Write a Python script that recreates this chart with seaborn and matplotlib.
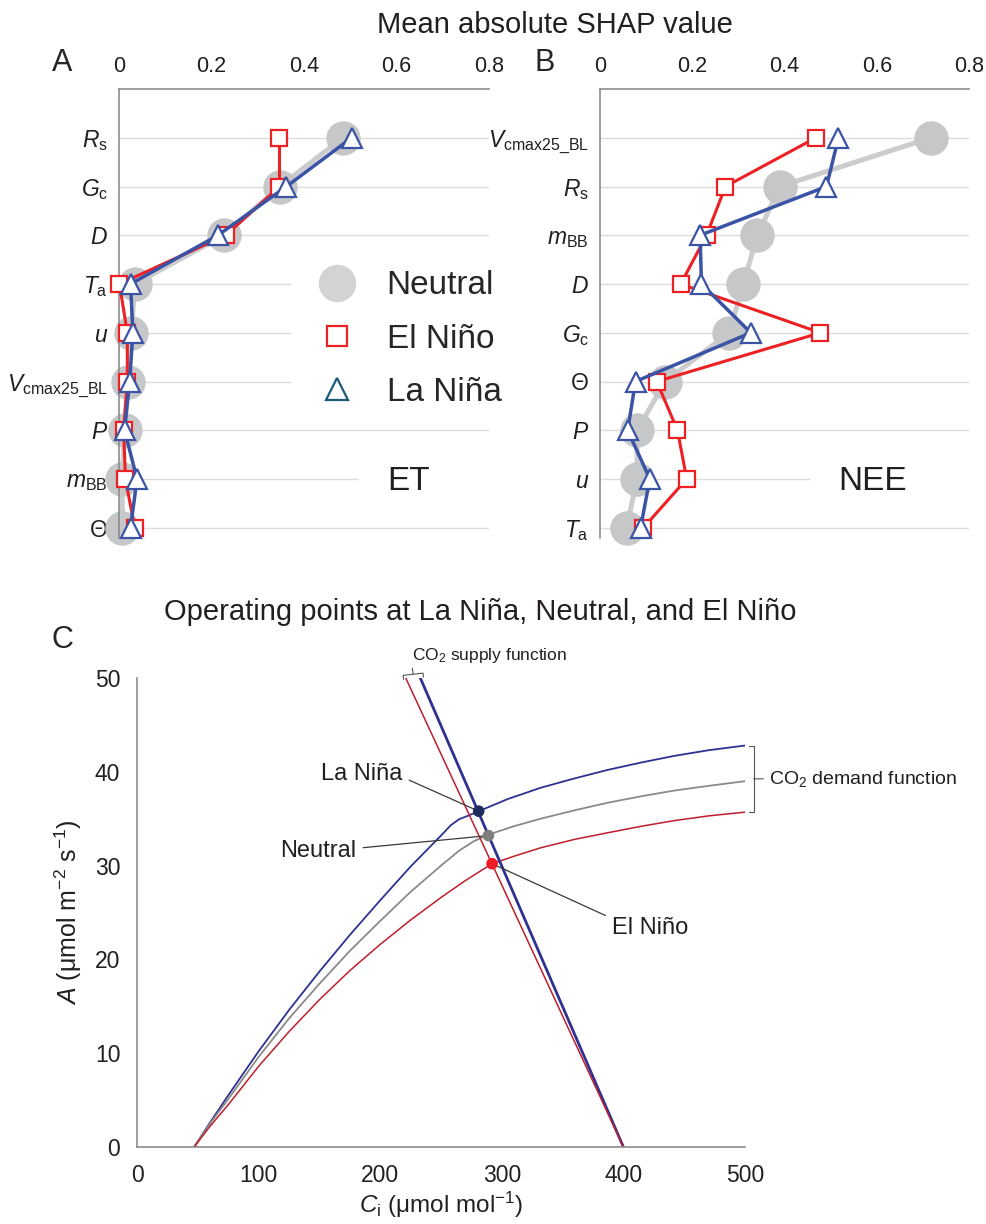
import matplotlib
matplotlib.use("Agg")
import matplotlib.pyplot as plt
from matplotlib.lines import Line2D
import seaborn as sns
import numpy as np

sns.set_style("white")
plt.rcParams["font.family"] = ["Liberation Sans", "DejaVu Sans"]
plt.rcParams["mathtext.fontset"] = "custom"
plt.rcParams["mathtext.rm"] = "Liberation Sans"
plt.rcParams["mathtext.it"] = "Liberation Sans:italic"
plt.rcParams["mathtext.bf"] = "Liberation Sans:bold"

# -------------------------------
# data: panel A (ET) and B (NEE), mean |SHAP|
# -------------------------------
et_labels = [r"$R_\mathrm{s}$", r"$G_\mathrm{c}$", r"$D$", r"$T_\mathrm{a}$", r"$u$",
             r"$V_\mathrm{cmax25\_BL}$", r"$P$", r"$m_\mathrm{BB}$", "Θ"]
et_neutral = [0.484, 0.348, 0.227, 0.034, 0.027, 0.019, 0.012, 0.007, 0.007]
et_elnino = [0.347, 0.347, 0.231, 0.001, 0.018, 0.018, 0.010, 0.014, 0.034]
et_lanina = [0.503, 0.362, 0.214, 0.025, 0.030, 0.023, 0.012, 0.039, 0.025]

nee_labels = [r"$V_\mathrm{cmax25\_BL}$", r"$R_\mathrm{s}$", r"$m_\mathrm{BB}$", r"$D$",
              r"$G_\mathrm{c}$", "Θ", r"$P$", r"$u$", r"$T_\mathrm{a}$"]
nee_neutral = [0.717, 0.390, 0.341, 0.311, 0.280, 0.141, 0.081, 0.080, 0.058]
nee_elnino = [0.468, 0.272, 0.231, 0.175, 0.478, 0.123, 0.168, 0.188, 0.094]
nee_lanina = [0.517, 0.491, 0.217, 0.220, 0.327, 0.077, 0.060, 0.108, 0.088]

shap_ticks = [0, 0.1, 0.2, 0.3, 0.4, 0.5, 0.6, 0.7, 0.8]
shap_ticklabels = ["0", "", "0.2", "", "0.4", "", "0.6", "", "0.8"]

# -------------------------------
# data: panel C, demand curves A(Ci), supply lines, operating points
# -------------------------------
ci_lanina = [47, 60, 75, 100, 125, 150, 175, 200, 225, 250, 258, 265, 272, 281,
             305, 332, 360, 387, 415, 442, 470, 500]
a_lanina = [0, 2.6, 5.5, 10.2, 14.6, 18.7, 22.6, 26.3, 29.9, 33.2, 34.3, 34.95, 35.3, 35.8,
            37.1, 38.3, 39.3, 40.2, 41.0, 41.7, 42.3, 42.8]
ci_neutral = [47, 60, 75, 100, 125, 150, 175, 200, 225, 250, 265, 277, 289,
              310, 332, 360, 387, 415, 442, 470, 500]
a_neutral = [0, 2.5, 5.1, 9.6, 13.7, 17.4, 20.9, 24.1, 27.2, 30.0, 31.6, 32.6, 33.3,
             34.2, 35.0, 35.9, 36.7, 37.4, 38.0, 38.5, 39.0]
ci_elnino = [47, 60, 75, 100, 125, 150, 175, 200, 225, 250, 270, 292,
             310, 332, 360, 387, 415, 442, 470, 500]
a_elnino = [0, 2.2, 4.5, 8.6, 12.3, 15.7, 18.8, 21.6, 24.2, 26.6, 28.4, 30.2,
            31.0, 31.9, 32.8, 33.5, 34.2, 34.8, 35.3, 35.7]

supply_a = [50, 0]
supply_ci_elnino = [221, 400]
supply_ci_lanina = [233, 400]

op_names = ["La Niña", "Neutral", "El Niño"]
op_ci = [281, 289, 292]
op_a = [35.8, 33.2, 30.2]

# colours
GREY_M = "#c6c7c9"
GREY_L = "#cbcccd"
RED = "#ed2024"
BLUE = "#3a53a4"
AXC = "#8c8c8c"
TXT = "#231f20"

fig = plt.figure(figsize=(9.87, 12.24), dpi=100)
W, H = 987.0, 1224.0
axA = fig.add_axes([119 / W, 1 - 537.5 / H, 370 / W, 448.5 / H])
axB = fig.add_axes([600 / W, 1 - 537.5 / H, 369 / W, 448.5 / H])
axC = fig.add_axes([137 / W, 1 - 1147 / H, 608 / W, 469 / H])


def shap_panel(ax, labels, neutral, elnino, lanina, grid_ends):
    pos = np.arange(len(labels))
    ax.hlines(pos, 0, grid_ends, color="#dcdcdc", lw=1.0, zorder=0)
    sns.lineplot(x=neutral, y=pos, orient="y", sort=False, estimator=None, ax=ax,
                 color=GREY_L, lw=3.6, marker="o", markersize=24,
                 markerfacecolor=GREY_M, markeredgecolor=GREY_M, clip_on=False, zorder=2)
    sns.lineplot(x=elnino, y=pos, orient="y", sort=False, estimator=None, ax=ax,
                 color=RED, lw=2.2, marker="s", markersize=11.5,
                 markerfacecolor="white", markeredgecolor=RED, markeredgewidth=1.6,
                 clip_on=False, zorder=3)
    sns.lineplot(x=lanina, y=pos, orient="y", sort=False, estimator=None, ax=ax,
                 color=BLUE, lw=2.5, marker="^", markersize=14,
                 markerfacecolor="white", markeredgecolor=BLUE, markeredgewidth=1.6,
                 clip_on=False, zorder=4)
    ax.set_xlim(0, 0.8)
    ax.set_ylim(8.2, -1)
    ax.xaxis.tick_top()
    ax.set_xticks(shap_ticks)
    ax.set_xticklabels(shap_ticklabels)
    ax.set_yticks(pos)
    ax.set_yticklabels(labels)
    ax.set_xlabel("")
    ax.set_ylabel("")
    ax.tick_params(axis="x", direction="out", length=5, width=1, color=AXC,
                   labelsize=15.5, labelcolor=TXT, pad=4)
    ax.tick_params(axis="y", length=0, labelsize=16.5, labelcolor=TXT, pad=8)
    sns.despine(ax=ax, top=False, right=True, bottom=True, left=False)
    for s in ("top", "left"):
        ax.spines[s].set_color(AXC)
        ax.spines[s].set_linewidth(1.2)


shap_panel(axA, et_labels, et_neutral, et_elnino, et_lanina,
           [0.8, 0.8, 0.8, 0.372, 0.372, 0.372, 0.8, 0.517, 0.8])
shap_panel(axB, nee_labels, nee_neutral, nee_elnino, nee_lanina,
           [0.8, 0.8, 0.8, 0.8, 0.8, 0.8, 0.8, 0.455, 0.8])

handles = [
    Line2D([], [], ls="none", marker="o", ms=27, mfc="#d1d3d4", mec="none"),
    Line2D([], [], ls="none", marker="s", ms=14, mfc="white", mec=RED, mew=1.6),
    Line2D([], [], ls="none", marker="^", ms=16, mfc="white", mec="#1c5a7c", mew=1.6),
]
axA.legend(handles, ["Neutral", "El Niño", "La Niña"], loc="center left",
           bbox_to_anchor=(320 / W, 1 - 339 / H), bbox_transform=fig.transFigure,
           frameon=False, fontsize=24, handlelength=1.0, handletextpad=1.0,
           labelspacing=0.67, borderpad=0, borderaxespad=0)

fig.text(387 / W, 1 - 482 / H, "ET", fontsize=24, va="center", color=TXT)
fig.text(838 / W, 1 - 482 / H, "NEE", fontsize=24, va="center", color=TXT)
fig.text(555 / W, 1 - 25 / H, "Mean absolute SHAP value", fontsize=21,
         ha="center", va="center", color=TXT)
fig.text(62 / W, 1 - 63 / H, "A", fontsize=22, ha="center", va="center")
fig.text(545 / W, 1 - 63 / H, "B", fontsize=22, ha="center", va="center")
fig.text(62 / W, 1 - 640 / H, "C", fontsize=22, ha="center", va="center")

# -------------------------------
# panel C
# -------------------------------
C_BLUE = "#2e3192"
C_GREY = "#8a8a8a"
C_RED = "#be1e2d"

sns.lineplot(x=ci_lanina, y=a_lanina, sort=False, estimator=None, ax=axC, color=C_BLUE, lw=1.3)
sns.lineplot(x=ci_neutral, y=a_neutral, sort=False, estimator=None, ax=axC, color=C_GREY, lw=1.3)
sns.lineplot(x=ci_elnino, y=a_elnino, sort=False, estimator=None, ax=axC, color=C_RED, lw=1.1)
sns.lineplot(x=supply_ci_lanina, y=supply_a, sort=False, estimator=None, ax=axC, color=C_BLUE, lw=2.0)
sns.lineplot(x=supply_ci_elnino, y=supply_a, sort=False, estimator=None, ax=axC, color=C_RED, lw=1.1)
sns.scatterplot(x=op_ci, y=op_a, hue=op_names, palette=["#1d2a5c", "#7d7d7d", "#ee1c25"],
                s=70, edgecolor="none", legend=False, ax=axC, zorder=5, clip_on=False)

axC.set_xlim(0, 500)
axC.set_ylim(0, 50)
axC.set_xticks([0, 100, 200, 300, 400, 500])
axC.set_yticks([0, 10, 20, 30, 40, 50])
sns.despine(ax=axC)
for s in ("left", "bottom"):
    axC.spines[s].set_color(AXC)
    axC.spines[s].set_linewidth(1.2)
axC.tick_params(direction="out", length=7, width=1, color=AXC, labelsize=16.5,
                labelcolor=TXT, pad=5)
axC.set_ylabel(r"$A$ (μmol m$^{-2}$ s$^{-1}$)", fontsize=18, labelpad=8, color=TXT)
axC.set_xlabel(r"$C_\mathrm{i}$ (μmol mol$^{-1}$)", fontsize=17.5, labelpad=2, color=TXT)

fig.text(480 / W, 1 - 612 / H, "Operating points at La Niña, Neutral, and El Niño",
         fontsize=21, ha="center", va="center", color=TXT)

lead = dict(arrowstyle="-", color="#3a3a3a", lw=0.9, shrinkA=3, shrinkB=2)
axC.annotate("La Niña", xy=(op_ci[0], op_a[0]), xytext=(218, 39.8), ha="right", va="center",
             fontsize=17, color=TXT, arrowprops=dict(lead, relpos=(1, 0.35)))
axC.annotate("Neutral", xy=(op_ci[1], op_a[1]), xytext=(180, 31.6), ha="right", va="center",
             fontsize=17, color=TXT, arrowprops=dict(lead, relpos=(1, 0.6)))
axC.annotate("El Niño", xy=(op_ci[2], op_a[2]), xytext=(391, 23.4), ha="left", va="center",
             fontsize=17, color=TXT, arrowprops=dict(lead, relpos=(0, 0.9)))

axC.annotate("CO$_2$ supply function", xy=(227, 50.4), xytext=(226, 52.4),
             ha="left", va="center", fontsize=12.5, color=TXT, annotation_clip=False,
             arrowprops=dict(arrowstyle="-[, widthB=0.72, lengthB=0.3", color="#555555",
                             lw=0.8, shrinkA=0, shrinkB=0, relpos=(0, 0.1), mutation_scale=10))
axC.annotate("CO$_2$ demand function", xy=(507, 39.25), xytext=(520, 39.25),
             ha="left", va="center", fontsize=14, color=TXT, annotation_clip=False,
             arrowprops=dict(arrowstyle="-[, widthB=2.4, lengthB=0.3", color="#555555",
                             lw=0.8, shrinkA=2, shrinkB=0, relpos=(0, 0.5), mutation_scale=10))

fig.savefig("out.png", dpi=100)
